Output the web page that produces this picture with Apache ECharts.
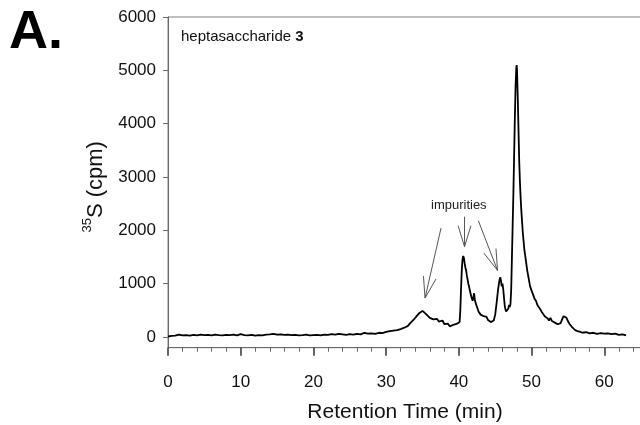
<!DOCTYPE html>
<html>
<head>
<meta charset="utf-8">
<script src="https://cdn.jsdelivr.net/npm/echarts@6/dist/echarts.min.js"></script>
<style>
  html, body { margin: 0; padding: 0; background: #fff; }
  #chart { width: 640px; height: 425px; }
</style>
</head>
<body>
<div id="chart"></div>
<script>
// Radio-HPLC trace of heptasaccharide 3: [retention time (min), 35S counts (cpm)]
const baselineTrace = [
  [0,10],[0.5,20],[1,25],[1.5,45],[2,30],[2.5,35],[3,25],[3.5,40],[4,30],[4.5,45],
  [5,35],[5.5,40],[6,30],[6.5,45],[7,35],[7.5,30],[8,40],[8.5,35],[9,45],[9.5,30],
  [10,55],[10.5,35],[11,30],[11.5,40],[12,25],[12.5,35],[13,30],[13.5,45],[14,50],[14.5,60],
  [15,45],[15.5,50],[16,40],[16.5,45],[17,35],[17.5,40],[18,30],[18.5,35],[19,45],[19.5,30],
  [20,35],[20.5,40],[21,30],[21.5,45],[22,40],[22.5,55],[23,45],[23.5,60],[24,50],[24.5,40],
  [25,55],[25.5,45],[26,60],[26.5,50],[27,80],[27.5,65],[28,70],[28.5,60],[29,80],[29.5,75],[30,95]
];
const earlyImpurityTrace = [
  [30.25,80],[30.5,110],[30.75,95],[31,120],[31.25,105],[31.5,130],[31.75,115],[32,150],
  [32.25,140],[32.5,175],[32.75,190],[33,210],[33.25,250],[33.5,280],[33.75,320],[34,360],
  [34.25,400],[34.5,440],[34.75,470],[35,490],[35.25,460],[35.5,430],[35.75,400],[36,360],
  [36.25,380],[36.5,330],[36.75,300],[37,340],[37.25,290],[37.5,280],[37.75,310],[38,240],
  [38.25,220],[38.5,250],[38.75,200],[39,190],[39.25,230],[39.5,210],[39.75,250],[40,230]
];
const impurityPeaksTrace = [
  [40.1,280],[40.2,500],[40.3,900],[40.4,1250],[40.5,1450],[40.6,1520],[40.7,1480],[40.8,1380],
  [40.9,1300],[41.0,1250],[41.1,1150],[41.2,1080],[41.3,1000],[41.4,950],[41.5,880],[41.6,820],
  [41.7,760],[41.8,720],[41.9,680],[42.0,750],[42.1,820],[42.2,700],[42.3,640],[42.4,600],
  [42.5,560],[42.6,520],[42.7,480],[42.8,510],[42.9,450],[43.0,420],[43.2,440],[43.4,390],
  [43.6,360],[43.8,380],[44.0,320],[44.2,350],[44.4,280],[44.6,260],[44.8,310],[45.0,420],
  [45.2,650],[45.4,900],[45.6,1080],[45.7,1120],[45.8,1050],[45.9,950],[46.0,1000],[46.1,900],
  [46.2,750],[46.3,600],[46.4,520],[46.5,480],[46.6,470],[46.7,500],[46.8,530],[46.9,600]
];
const mainPeakTrace = [
  [47.0,560],[47.1,620],[47.2,900],[47.3,1500],[47.4,2100],[47.5,2700],[47.6,3400],[47.7,4100],
  [47.8,4700],[47.9,5050],[47.95,5100],[48.0,5000],[48.1,4500],[48.2,3900],[48.3,3300],[48.4,2900],
  [48.5,2600],[48.6,2350],[48.7,2150],[48.8,1950],[48.9,1800],[49.0,1650],[49.1,1550],[49.2,1450],
  [49.4,1250],[49.6,1100],[49.8,950],[50.0,870],[50.2,800],[50.4,720],[50.6,680],[50.8,600],
  [51.0,560],[51.2,520],[51.4,470],[51.6,430],[51.8,390],[52.0,420],[52.2,350],[52.4,310],
  [52.6,360],[52.8,300],[53.0,320],[53.2,270],[53.4,290],[53.6,240],[53.8,220],[54.0,260],
  [54.2,330],[54.4,390],[54.6,420],[54.8,360],[55.0,300],[55.2,250],[55.4,220],[55.6,180],
  [55.8,150],[56.0,130],[56.3,110],[56.6,100],[57.0,80],[57.5,90],[58.0,70],[58.5,80],
  [59.0,60],[59.5,75],[60.0,65],[60.5,70],[61.0,55],[61.5,65],[62.0,40],[62.5,50],[63.0,30]
];

// Axis tick values
const yTickValues = [0, 1000, 2000, 3000, 4000, 5000, 6000];

// "impurities" arrows: [tail time, tail cpm, head time, head cpm]
const impurityArrows = [
  [37.55, 2044, 35.35, 731],
  [40.78, 2256, 40.78, 1693],
  [42.68, 2181, 45.32, 1247]
];

const trace = baselineTrace.concat(earlyImpurityTrace, impurityPeaksTrace, mainPeakTrace);

const FONT = '"Liberation Sans", Arial, Helvetica, sans-serif';
const AXIS_COLOR = '#6a6a6a';

const chart = echarts.init(document.getElementById('chart'), null, { renderer: 'canvas' });

chart.setOption({
  animation: false,
  backgroundColor: '#fff',
  grid: {
    left: 168, top: 17, width: 509, bottom: 77.3,
    outerBoundsMode: 'none', containLabel: false,
    show: true, borderColor: '#808080', borderWidth: 1
  },
  xAxis: {
    type: 'value', min: 0, max: 70, interval: 10,
    axisLine: { onZero: false, lineStyle: { color: AXIS_COLOR, width: 1 } },
    axisTick: { length: 8, lineStyle: { color: '#333', width: 1.5 } },
    minorTick: { show: true, splitNumber: 5, length: 4, lineStyle: { color: AXIS_COLOR, width: 1 } },
    axisLabel: { fontFamily: FONT, fontSize: 17, color: '#111', margin: 26, formatter: v => String(v) },
    splitLine: { show: false }
  },
  yAxis: {
    type: 'value', min: -200, max: 6000,
    name: '{sup|35}{main|S (cpm)}', nameLocation: 'middle', nameGap: 55,
    nameTextStyle: {
      fontFamily: FONT, color: '#111', padding: [0, 9, 0, 0],
      rich: {
        sup: { fontFamily: FONT, fontSize: 13, color: '#111', verticalAlign: 'top', lineHeight: 13 },
        main: { fontFamily: FONT, fontSize: 22, color: '#111', lineHeight: 30 }
      }
    },
    axisLine: { show: true, lineStyle: { color: AXIS_COLOR, width: 1 } },
    axisTick: { show: true, length: 5, customValues: yTickValues, lineStyle: { color: AXIS_COLOR, width: 1 } },
    axisLabel: { fontFamily: FONT, fontSize: 17, color: '#111', margin: 12, customValues: yTickValues, formatter: v => String(v) },
    splitLine: { show: false }
  },
  series: [{
    type: 'line',
    data: trace,
    showSymbol: false,
    symbol: 'none',
    lineStyle: { color: '#000', width: 1.8 },
    clip: true
  }]
});

// Annotations: panel letter, x-axis title, compound label, impurity arrows
function arrowShapes(a) {
  const tail = chart.convertToPixel({ gridIndex: 0 }, [a[0], a[1]]);
  const head = chart.convertToPixel({ gridIndex: 0 }, [a[2], a[3]]);
  const ang = Math.atan2(tail[1] - head[1], tail[0] - head[0]);
  const barbLen = 22, spread = 17 * Math.PI / 180;
  const style = { stroke: '#555', lineWidth: 1 };
  return [
    { type: 'line', shape: { x1: tail[0], y1: tail[1], x2: head[0], y2: head[1] }, style },
    { type: 'line', shape: { x1: head[0], y1: head[1],
        x2: head[0] + barbLen * Math.cos(ang + spread), y2: head[1] + barbLen * Math.sin(ang + spread) }, style },
    { type: 'line', shape: { x1: head[0], y1: head[1],
        x2: head[0] + barbLen * Math.cos(ang - spread), y2: head[1] + barbLen * Math.sin(ang - spread) }, style }
  ];
}

const graphics = [
  {
    type: 'text', left: 9, top: 6,
    style: { text: 'A.', fontFamily: FONT, fontSize: 54, fontWeight: 'bold', fill: '#000' }
  },
  {
    type: 'text', x: 405, y: 412,
    style: { text: 'Retention Time (min)', fontFamily: FONT, fontSize: 21, fill: '#111',
             align: 'center', verticalAlign: 'middle' }
  },
  {
    type: 'text', left: 181, top: 29,
    style: {
      text: '{n|heptasaccharide }{b|3}',
      rich: {
        n: { fontFamily: FONT, fontSize: 15, fill: '#111' },
        b: { fontFamily: FONT, fontSize: 15, fontWeight: 'bold', fill: '#111' }
      }
    }
  },
  {
    type: 'text', left: 431, top: 199,
    style: { text: 'impurities', fontFamily: FONT, fontSize: 13, fill: '#222' }
  }
];
impurityArrows.forEach(a => arrowShapes(a).forEach(s => graphics.push(s)));

chart.setOption({ graphic: graphics });
</script>
</body>
</html>
